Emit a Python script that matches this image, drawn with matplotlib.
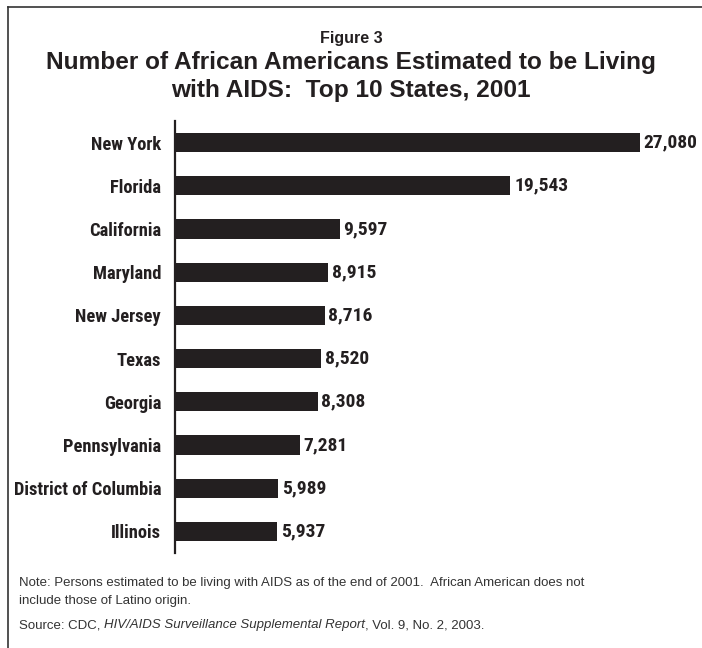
import matplotlib
matplotlib.use('Agg')
import matplotlib.pyplot as plt
from matplotlib.lines import Line2D

# Top 10 states, 2001
states = ['New York', 'Florida', 'California', 'Maryland', 'New Jersey',
          'Texas', 'Georgia', 'Pennsylvania', 'District of Columbia', 'Illinois']
living_with_aids = [27080, 19543, 9597, 8915, 8716, 8520, 8308, 7281, 5989, 5937]

bar_color = '#231f20'
narrow = ['Roboto Condensed', 'DejaVu Sans']
regular = ['Liberation Sans', 'DejaVu Sans']

W, H = 702, 648
fig = plt.figure(figsize=(W / 100, H / 100), dpi=100)

# outer frame (top and left edges)
fig.add_artist(Line2D([8 / W, 8 / W], [0, 1 - 7 / H], transform=fig.transFigure,
                      color='#333333', lw=1.2))
fig.add_artist(Line2D([8 / W, 1], [1 - 7 / H, 1 - 7 / H], transform=fig.transFigure,
                      color='#333333', lw=1.2))

# titles
fig.text(0.5, 1 - 38 / H, 'Figure 3', ha='center', va='center',
         fontsize=11.5, fontweight='bold', family=regular, color='#231f20')
fig.text(0.5, 1 - 62 / H, 'Number of African Americans Estimated to be Living',
         ha='center', va='center', fontsize=17.6, fontweight='bold',
         family=regular, color='#231f20')
fig.text(0.5, 1 - 91 / H, 'with AIDS:  Top 10 States, 2001',
         ha='center', va='center', fontsize=17.6, fontweight='bold',
         family=regular, color='#231f20')

# bar area
left, right, top, bottom = 175, 690, 121, 553
ax = fig.add_axes([left / W, 1 - bottom / H, (right - left) / W, (bottom - top) / H])
y = list(range(len(states)))
ax.barh(y, living_with_aids, height=0.44, color=bar_color, edgecolor='none')
ax.set_xlim(0, 30000)
ax.set_ylim(len(states) - 0.5, -0.5)

for yi, v in zip(y, living_with_aids):
    ax.text(v + 220, yi, f'{v:,}', va='center', ha='left', fontsize=14,
            fontweight='bold', family=narrow, color='#231f20')

ax.set_yticks(y)
ax.set_yticklabels(states, fontsize=13.3, fontweight='bold', family=narrow,
                   color='#231f20')
ax.tick_params(axis='y', length=0, pad=10)
ax.set_xticks([])
for side in ['top', 'right', 'bottom']:
    ax.spines[side].set_visible(False)
ax.spines['left'].set_linewidth(1.6)
ax.spines['left'].set_color(bar_color)

# notes
fig.text(19 / W, 1 - 583 / H,
         'Note: Persons estimated to be living with AIDS as of the end of 2001.  '
         'African American does not', ha='left', va='center', fontsize=9.5,
         family=regular, color='#333333')
fig.text(19 / W, 1 - 601 / H, 'include those of Latino origin.', ha='left',
         va='center', fontsize=9.5, family=regular, color='#333333')
src = fig.text(19 / W, 1 - 625 / H, 'Source: CDC, ', ha='left', va='center',
               fontsize=9.5, family=regular, color='#333333')
fig.canvas.draw()
bb = src.get_window_extent()
it = fig.text(bb.x1 / W, 1 - 625 / H, 'HIV/AIDS Surveillance Supplemental Report',
              ha='left', va='center', fontsize=9.5, style='italic',
              family=regular, color='#333333')
bb2 = it.get_window_extent()
fig.text(bb2.x1 / W, 1 - 625 / H, ', Vol. 9, No. 2, 2003.', ha='left',
         va='center', fontsize=9.5, family=regular, color='#333333')

fig.savefig('out.png', dpi=100)
